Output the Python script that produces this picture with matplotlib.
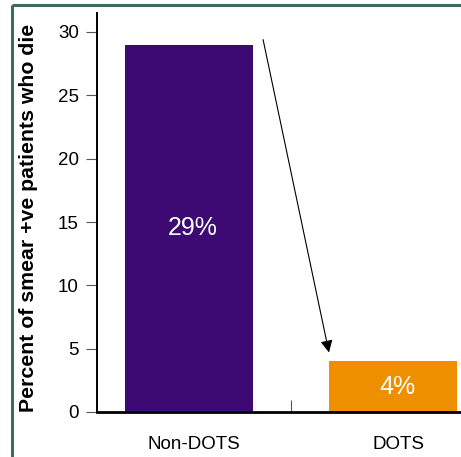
import matplotlib
matplotlib.use("Agg")
import matplotlib.pyplot as plt
from matplotlib.lines import Line2D

# death rates among smear-positive patients
categories = ["Non-DOTS", "DOTS"]
values = [29, 4]
bar_colors = ["#3d0a73", "#ee8f00"]
yticks = [0, 5, 10, 15, 20, 25, 30]

plt.rcParams["font.family"] = ["Liberation Sans", "DejaVu Sans"]

fig = plt.figure(figsize=(4.61, 4.57), dpi=100)
ax = fig.add_axes([97 / 461, 1 - 412 / 457, 1 - 97 / 461, (412 - 13) / 457])

x = list(range(len(categories)))
ax.bar(x, values, width=0.627, color=bar_colors)

for xi, v in zip(x, values):
    ax.text(xi + 0.02, v / 2, f"{v}%", color="white", fontsize=18,
            ha="center", va="center")

# arrow showing the drop
ax.annotate("", xy=(0.686, 4.7), xytext=(0.363, 29.4),
            arrowprops=dict(arrowstyle="-|>", lw=0.8, color="black",
                            mutation_scale=18, shrinkA=0, shrinkB=0))

ax.set_xlim(-0.451, 1.333)
ax.set_ylim(0, 31.5)

ax.set_yticks(yticks)
ax.tick_params(axis="y", direction="out", length=8, width=0.8,
               color="#555555", labelsize=13.5, pad=5)

# separator tick between the two groups, category names as minor ticks
ax.set_xticks([0.5])
ax.set_xticklabels([""])
ax.tick_params(axis="x", which="major", direction="in", length=9,
               width=0.8, color="#555555")
ax.set_xticks([xi + 0.025 for xi in x], minor=True)
ax.set_xticklabels(categories, minor=True)
ax.tick_params(axis="x", which="minor", length=0, labelsize=13.5, pad=17)

for side in ("top", "right"):
    ax.spines[side].set_visible(False)
ax.spines["left"].set_linewidth(1.4)
ax.spines["bottom"].set_linewidth(2)

fig.text(29 / 461, 1 - 218 / 457, "Percent of smear +ve patients who die",
         rotation=90, ha="center", va="center", fontsize=15.3,
         fontweight="bold")

# green frame along the top and left edges
frame_color = "#3d6b5a"
fig.add_artist(Line2D([12 / 461, 1], [1 - 5 / 457, 1 - 5 / 457],
                      color=frame_color, lw=2.2, solid_capstyle="butt",
                      transform=fig.transFigure))
fig.add_artist(Line2D([12 / 461, 12 / 461], [0, 1 - 5 / 457],
                      color=frame_color, lw=2.2, solid_capstyle="butt",
                      transform=fig.transFigure))

fig.savefig("out.png", dpi=100)
